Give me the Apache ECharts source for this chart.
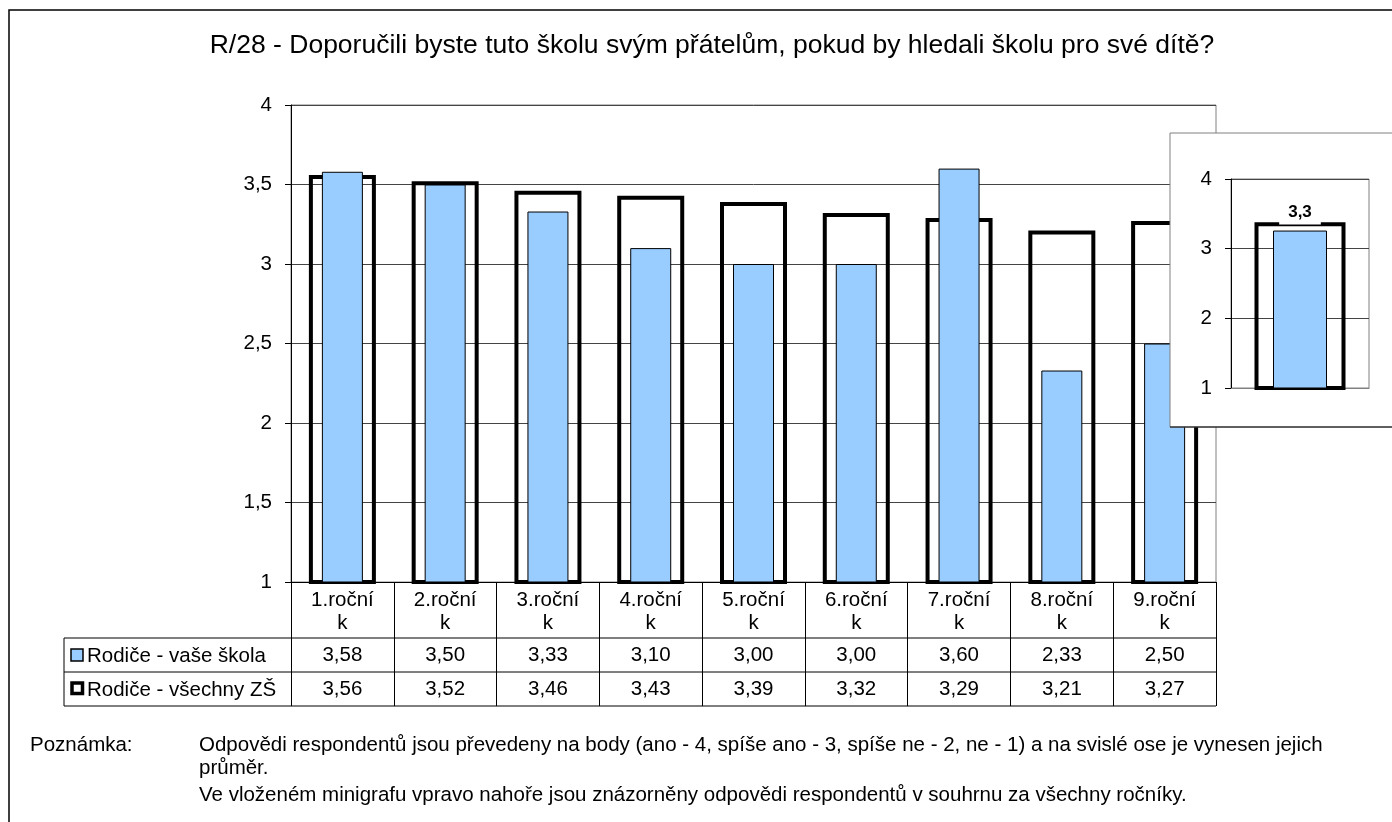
<!DOCTYPE html>
<html>
<head>
<meta charset="UTF-8">
<script src="https://cdn.jsdelivr.net/npm/echarts@6.0.0/dist/echarts.min.js"></script>
<style>
body { margin:0; padding:0; background:#fff; }
#chart { width:1392px; height:822px; }
</style>
</head>
<body><div id="chart"></div>
<script>
// --- data ---
var categories = ['1.ročník', '2.ročník', '3.ročník', '4.ročník', '5.ročník', '6.ročník', '7.ročník', '8.ročník', '9.ročník'];
var schoolValues = [3.58, 3.50, 3.33, 3.10, 3.00, 3.00, 3.60, 2.33, 2.50];
var allValues = [3.56, 3.52, 3.46, 3.43, 3.39, 3.32, 3.29, 3.21, 3.27];
var insetSchool = [3.26];
var insetAll = [3.38];
var seriesNames = ['Rodiče - vaše škola', 'Rodiče - všechny ZŠ'];
var yRange = [1, 4];

var FONT = '"Liberation Sans", Arial, sans-serif';
var FS = 20.5;
var BLUE = '#99CCFF';
var comma = function (v, d) { return v.toFixed(d).replace('.', ','); };

// table layout (px)
var tblLeft = 64, plotLeft = 291, plotRight = 1216;
var rowY = [638, 672, 706];

var c = echarts.init(document.getElementById('chart'));
c.setOption({
  backgroundColor: '#fff',
  animation: false,
  textStyle: { fontFamily: FONT },
  title: {
    text: 'R/28 - Doporučili byste tuto školu svým přátelům, pokud by hledali školu pro své dítě?',
    left: 707, top: 27, textAlign: 'center',
    textStyle: { fontFamily: FONT, fontSize: 26.5, fontWeight: 'normal', color: '#000' }
  },
  grid: [
    { left: plotLeft, top: 105, width: plotRight - plotLeft, height: 477, show: true, borderColor: '#808080', borderWidth: 1 },
    { left: 1231, top: 179, width: 138, height: 209, show: true, borderColor: '#808080', borderWidth: 1, z: 6 }
  ],
  xAxis: [
    { type: 'category', gridIndex: 0, data: categories,
      axisLine: { lineStyle: { color: '#000', width: 1 } },
      axisTick: { show: true, length: 124, lineStyle: { color: '#000' } },
      axisLabel: { interval: 0, margin: 7, fontSize: FS, lineHeight: 23, color: '#000', fontFamily: FONT,
        formatter: function (s) { return s.slice(0, -1) + '\n' + s.slice(-1); } } },
    { type: 'category', gridIndex: 0, data: categories, show: false },
    { type: 'category', gridIndex: 0, data: schoolValues.map(function (v) { return comma(v, 2); }),
      position: 'bottom', offset: 56, axisLine: { show: false }, axisTick: { show: false },
      axisLabel: { interval: 0, margin: 7, fontSize: FS, color: '#000', fontFamily: FONT } },
    { type: 'category', gridIndex: 0, data: allValues.map(function (v) { return comma(v, 2); }),
      position: 'bottom', offset: 90, axisLine: { show: false }, axisTick: { show: false },
      axisLabel: { interval: 0, margin: 7, fontSize: FS, color: '#000', fontFamily: FONT } },
    { type: 'category', gridIndex: 1, data: ['celkem'], z: 6,
      axisLine: { lineStyle: { color: '#808080' } }, axisTick: { show: false }, axisLabel: { show: false } },
    { type: 'category', gridIndex: 1, data: ['celkem'], show: false }
  ],
  yAxis: [
    { type: 'value', gridIndex: 0, min: yRange[0], max: yRange[1], interval: 0.5,
      axisLine: { show: true, lineStyle: { color: '#000' } },
      axisTick: { show: true, length: 6, lineStyle: { color: '#000' } },
      splitLine: { lineStyle: { color: '#444', width: 1 } },
      axisLabel: { margin: 19, fontSize: FS, color: '#000', fontFamily: FONT,
        formatter: function (v) { return String(v).replace('.', ','); } } },
    { type: 'value', gridIndex: 1, min: yRange[0], max: yRange[1], interval: 1, z: 6,
      axisLine: { show: true, lineStyle: { color: '#000' } },
      axisTick: { show: true, length: 6, lineStyle: { color: '#000' } },
      splitLine: { lineStyle: { color: '#444', width: 1 } },
      axisLabel: { margin: 19, fontSize: FS, color: '#000', fontFamily: FONT } }
  ],
  series: [
    { name: seriesNames[1], type: 'bar', xAxisIndex: 0, yAxisIndex: 0, data: allValues, barWidth: 67, z: 2,
      itemStyle: { color: 'rgba(255,255,255,0)', borderColor: '#000', borderWidth: 4 } },
    { name: seriesNames[0], type: 'bar', xAxisIndex: 1, yAxisIndex: 0, data: schoolValues, barWidth: 41, z: 3,
      itemStyle: { color: BLUE, borderColor: '#000', borderWidth: 1 } },
    { name: seriesNames[1], type: 'bar', xAxisIndex: 4, yAxisIndex: 1, data: insetAll, barWidth: 91, z: 10,
      itemStyle: { color: 'rgba(255,255,255,0)', borderColor: '#000', borderWidth: 4 } },
    { name: seriesNames[0], type: 'bar', xAxisIndex: 5, yAxisIndex: 1, data: insetSchool, barWidth: 54, z: 11,
      itemStyle: { color: BLUE, borderColor: '#000', borderWidth: 1 },
      label: { show: true, position: 'top', distance: 6, fontSize: 17, fontWeight: 'bold', color: '#000',
        fontFamily: FONT, backgroundColor: '#fff', padding: [2, 9, 4, 9],
        formatter: function (p) { return comma(p.value, 1); } } }
  ],
  graphic: [
    // inset box
    { type: 'rect', z: 5, shape: { x: 1170, y: 133, width: 260, height: 294 },
      style: { fill: '#fff', stroke: '#808080', lineWidth: 1 } },
    { type: 'line', z: 5, shape: { x1: 1170, y1: 427, x2: 1392, y2: 427 }, style: { stroke: '#000', lineWidth: 1 } },
    // data table lines
    { type: 'line', shape: { x1: tblLeft, y1: rowY[0], x2: plotRight, y2: rowY[0] }, style: { stroke: '#000', lineWidth: 1 } },
    { type: 'line', shape: { x1: tblLeft, y1: rowY[1], x2: plotRight, y2: rowY[1] }, style: { stroke: '#000', lineWidth: 1 } },
    { type: 'line', shape: { x1: tblLeft, y1: rowY[2], x2: plotRight, y2: rowY[2] }, style: { stroke: '#000', lineWidth: 1 } },
    { type: 'line', shape: { x1: tblLeft, y1: rowY[0], x2: tblLeft, y2: rowY[2] }, style: { stroke: '#000', lineWidth: 1 } },
    // legend keys in the table
    { type: 'rect', shape: { x: 71, y: 649, width: 12, height: 12 }, style: { fill: BLUE, stroke: '#000', lineWidth: 1.5 } },
    { type: 'text', x: 87, y: 656, style: { text: seriesNames[0], font: FS + 'px ' + FONT, fill: '#000', textVerticalAlign: 'middle' } },
    { type: 'rect', shape: { x: 72, y: 683, width: 10.5, height: 10.5 }, style: { fill: '#fff', stroke: '#000', lineWidth: 3.5 } },
    { type: 'text', x: 87, y: 690, style: { text: seriesNames[1], font: FS + 'px ' + FONT, fill: '#000', textVerticalAlign: 'middle' } },
    // note
    { type: 'text', x: 30, y: 745, style: { text: 'Poznámka:', font: '20.5px ' + FONT, fill: '#000', textVerticalAlign: 'middle' } },
    { type: 'text', x: 199, y: 745, style: { text: 'Odpovědi respondentů jsou převedeny na body (ano - 4, spíše ano - 3, spíše ne - 2, ne - 1) a na svislé ose je vynesen jejich', font: '20.5px ' + FONT, fill: '#000', textVerticalAlign: 'middle' } },
    { type: 'text', x: 199, y: 768, style: { text: 'průměr.', font: '20.5px ' + FONT, fill: '#000', textVerticalAlign: 'middle' } },
    { type: 'text', x: 199, y: 795, style: { text: 'Ve vloženém minigrafu vpravo nahoře jsou znázorněny odpovědi respondentů v souhrnu za všechny ročníky.', font: '20.5px ' + FONT, fill: '#000', textVerticalAlign: 'middle' } },
    // outer frame
    { type: 'rect', z: 100, shape: { x: 9, y: 10, width: 1400, height: 830 }, style: { fill: 'none', stroke: '#000', lineWidth: 1.5 } }
  ]
});
</script>
</body></html>
